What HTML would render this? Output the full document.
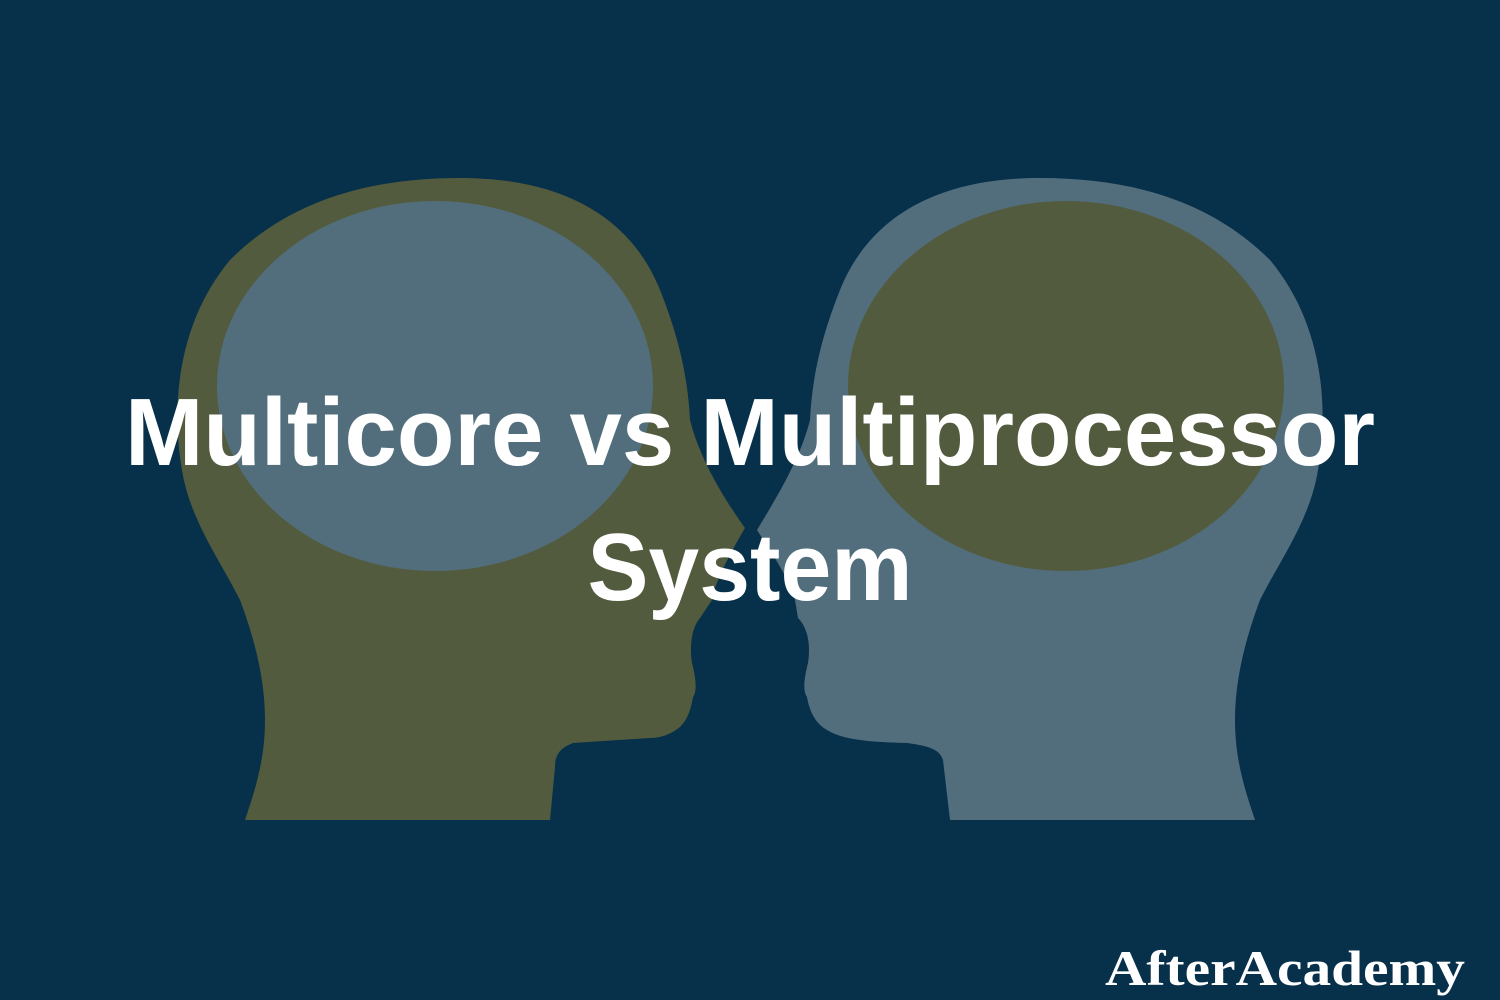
<!DOCTYPE html>
<html><head><meta charset="utf-8"><style>
html,body{margin:0;padding:0;background:#07304a;}
svg{display:block;}
</style></head><body>
<svg width="1500" height="1000" viewBox="0 0 1500 1000">
<rect width="1500" height="1000" fill="#07304a"/>
<path fill="#525b3d" d="M460,178 C560,178 630,215 660,290 C680,340 688,380 690,420 C700,460 725,500 745,528 C735,545 715,580 712,600 L700,618 C690,630 690,650 692,663 C695,675 698,690 693,697 C690,715 685,722 680,727 C670,735 660,738 650,738 L573,743 C560,748 555,755 555,767 L550,820 L245,820 C255,790 265,760 265,720 C265,680 255,640 240,600 C220,560 190,520 182,470 C170,400 180,320 230,260 C290,200 370,178 460,178 Z"/>
<path fill="#526e7c" d="M1040,178 C940,178 870,215 840,290 C820,340 812,380 810,420 C800,460 775,500 757,530 C770,550 790,580 795,600 L798,618 C810,630 810,650 808,663 C805,675 802,690 807,697 C810,715 818,725 827,730 C840,738 860,742 907,743 C930,746 940,750 943,760 L950,820 L1255,820 C1245,790 1235,760 1235,720 C1235,680 1245,640 1260,600 C1280,560 1310,520 1318,470 C1330,400 1320,320 1270,260 C1210,200 1130,178 1040,178 Z"/>
<ellipse cx="435" cy="386" rx="218" ry="185" fill="#526e7c"/>
<ellipse cx="1066" cy="386" rx="218" ry="185" fill="#525b3d"/>
<text x="750" y="465" text-anchor="middle" font-family="Liberation Sans, sans-serif" font-weight="bold" font-size="96" fill="#ffffff" textLength="1250" lengthAdjust="spacingAndGlyphs">Multicore vs Multiprocessor</text>
<text x="750" y="600" text-anchor="middle" font-family="Liberation Sans, sans-serif" font-weight="bold" font-size="96" fill="#ffffff" textLength="325" lengthAdjust="spacingAndGlyphs">System</text>
<text x="1105" y="985" font-family="Liberation Serif, serif" font-weight="bold" font-size="50" fill="#ffffff" textLength="360" lengthAdjust="spacingAndGlyphs">AfterAcademy</text>
</svg>
</body></html>
